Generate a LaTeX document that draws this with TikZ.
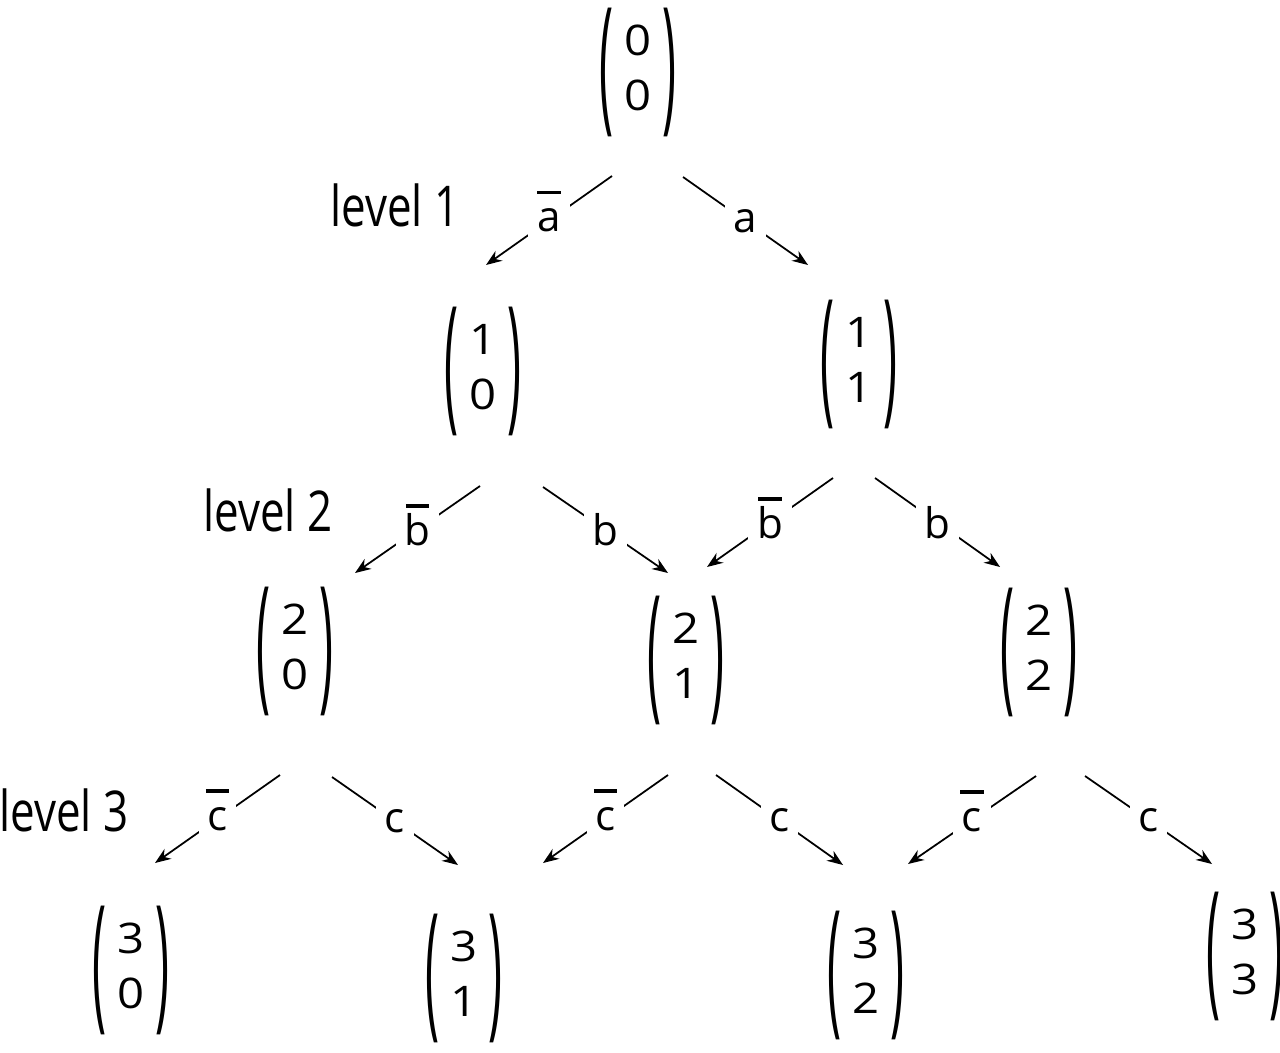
\documentclass[tikz,border=0pt]{standalone}
\usepackage{amsmath}
\usepackage{graphicx}
\usepackage{fontspec}
\setmainfont{Open Sans}
\newfontfamily\digitfont[FakeStretch=1.12]{Open Sans}
\newfontfamily\levelfont[FakeStretch=0.78]{Open Sans}
\usetikzlibrary{arrows.meta}
\newcommand{\tallparen}[1]{\vcenter{\hbox{\scalebox{1}[3.5]{#1}}}}
\newcommand{\vect}[2]{$\tallparen{(}\vcenter{\hbox{\setlength{\tabcolsep}{3pt}\begin{tabular}{c}#1\\#2\end{tabular}}}\tallparen{)}$}
\newcommand{\neglab}[1]{\ooalign{#1\cr\hidewidth\raisebox{10.8pt}{\rule{0.55em}{0.9pt}}\hidewidth\cr}}
\tikzset{
  state/.style={inner sep=0pt,font=\digitfont\fontsize{12}{15.6}\selectfont},
  levellab/.style={inner sep=0pt,font=\levelfont\fontsize{16}{18}\selectfont},
  move/.style={line width=0.5pt,-{Stealth[length=4.5pt,width=3.4pt]}},
  lab/.style={midway,fill=white,inner sep=2.5pt,font=\fontsize{12}{14}\selectfont}
}
\begin{document}
\begin{tikzpicture}[x=0.01cm,y=-0.01cm]
    \useasboundingbox (0,0) rectangle (1280,1052);
    % vectors
    \node[state] (n00) at (638,72) {\vect{0}{0}};
    \node[state] (n10) at (483,371) {\vect{1}{0}};
    \node[state] (n11) at (859,364) {\vect{1}{1}};
    \node[state] (n20) at (295,651) {\vect{2}{0}};
    \node[state] (n21) at (686,660) {\vect{2}{1}};
    \node[state] (n22) at (1039,652) {\vect{2}{2}};
    \node[state] (n30) at (131,970) {\vect{3}{0}};
    \node[state] (n31) at (464,978) {\vect{3}{1}};
    \node[state] (n32) at (866,975) {\vect{3}{2}};
    \node[state] (n33) at (1245,956) {\vect{3}{3}};
    % levels
    \node[levellab] (lev1) at (395,205) {level 1};
    \node[levellab] (lev2) at (268,510) {level 2};
    \node[levellab] (lev3) at (64,810) {level 3};
    % moves
    \draw[move] ([shift={(-26,104)}]n00.center) -- node[lab] {\neglab{a}} ([shift={(3,-106)}]n10.center);
    \draw[move] ([shift={(45,105)}]n00.center) -- node[lab] {a} ([shift={(-51,-99)}]n11.center);
    \draw[move] ([shift={(-3,115)}]n10.center) -- node[lab] {\neglab{b}} ([shift={(60,-78)}]n20.center);
    \draw[move] ([shift={(60,116)}]n10.center) -- node[lab] {b} ([shift={(-18,-87)}]n21.center);
    \draw[move] ([shift={(-26,114)}]n11.center) -- node[lab] {\neglab{b}} ([shift={(21,-93)}]n21.center);
    \draw[move] ([shift={(16,114)}]n11.center) -- node[lab] {b} ([shift={(-39,-85)}]n22.center);
    \draw[move] ([shift={(-15,124)}]n20.center) -- node[lab] {\neglab{c}} ([shift={(24,-107)}]n30.center);
    \draw[move] ([shift={(37,126)}]n20.center) -- node[lab] {c} ([shift={(-6,-113)}]n31.center);
    \draw[move] ([shift={(-18,115)}]n21.center) -- node[lab] {\neglab{c}} ([shift={(79,-115)}]n31.center);
    \draw[move] ([shift={(30,115)}]n21.center) -- node[lab] {c} ([shift={(-23,-110)}]n32.center);
    \draw[move] ([shift={(-3,124)}]n22.center) -- node[lab] {\neglab{c}} ([shift={(42,-111)}]n32.center);
    \draw[move] ([shift={(46,124)}]n22.center) -- node[lab] {c} ([shift={(-33,-92)}]n33.center);
\end{tikzpicture}
\end{document}
